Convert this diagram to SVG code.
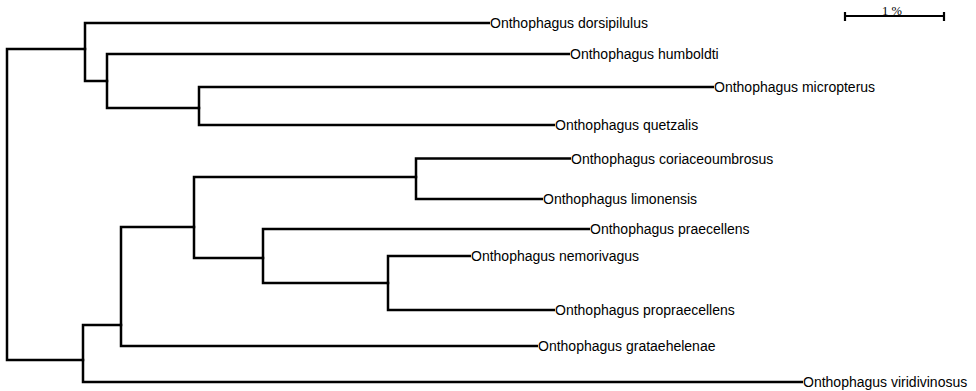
<svg xmlns="http://www.w3.org/2000/svg" width="976" height="391" viewBox="0 0 976 391">
<style>
.br{fill:none;stroke:#000;stroke-width:2.5;stroke-linejoin:miter;stroke-linecap:butt}
.lbl{font-family:"Liberation Sans",Arial,sans-serif;font-size:14px;fill:#000}
.sc{font-family:"Liberation Serif","Times New Roman",serif;font-size:12.5px;fill:#000}
</style>
<rect width="976" height="391" fill="#fff"/>
<g id="connectors">
<path class="br" d="M7 204 V49 H85"/>
<path class="br" d="M7 204 V360 H83"/>
<path class="br" d="M85 50.25 V23 H490"/>
<path class="br" d="M85 47.75 V81 H107"/>
<path class="br" d="M107 82.25 V54 H570"/>
<path class="br" d="M107 79.75 V108 H199"/>
<path class="br" d="M199 109.25 V87 H714"/>
<path class="br" d="M199 106.75 V125 H555"/>
<path class="br" d="M83 361.25 V325 H121"/>
<path class="br" d="M83 358.75 V382 H803"/>
<path class="br" d="M121 326.25 V227 H194"/>
<path class="br" d="M121 323.75 V346 H538"/>
<path class="br" d="M194 228.25 V177 H416"/>
<path class="br" d="M194 225.75 V258 H263"/>
<path class="br" d="M416 178.25 V158.5 H571"/>
<path class="br" d="M416 175.75 V199 H543"/>
<path class="br" d="M263 259.25 V229 H590"/>
<path class="br" d="M263 256.75 V283 H388"/>
<path class="br" d="M388 284.25 V256 H471"/>
<path class="br" d="M388 281.75 V310 H555"/>
</g>
<g id="scale">
<path class="br" style="stroke-width:2.2" d="M845 16 H944 M845 12 V21 M944 12 V21"/>
<text class="sc" x="892" y="14.5" text-anchor="middle">1 %</text>
</g>
<g id="dorsipilulus"><text class="lbl" x="490" y="28">Onthophagus dorsipilulus</text></g>
<g id="humboldti"><text class="lbl" x="570" y="59">Onthophagus humboldti</text></g>
<g id="micropterus"><text class="lbl" x="714" y="92">Onthophagus micropterus</text></g>
<g id="quetzalis"><text class="lbl" x="555" y="130">Onthophagus quetzalis</text></g>
<g id="coriaceoumbrosus"><text class="lbl" x="571" y="163.5">Onthophagus coriaceoumbrosus</text></g>
<g id="limonensis"><text class="lbl" x="543" y="204">Onthophagus limonensis</text></g>
<g id="praecellens"><text class="lbl" x="590" y="234">Onthophagus praecellens</text></g>
<g id="nemorivagus"><text class="lbl" x="471" y="261">Onthophagus nemorivagus</text></g>
<g id="propraecellens"><text class="lbl" x="555" y="315">Onthophagus propraecellens</text></g>
<g id="grataehelenae"><text class="lbl" x="538" y="351">Onthophagus grataehelenae</text></g>
<g id="viridivinosus"><text class="lbl" x="803" y="387">Onthophagus viridivinosus</text></g>
</svg>
